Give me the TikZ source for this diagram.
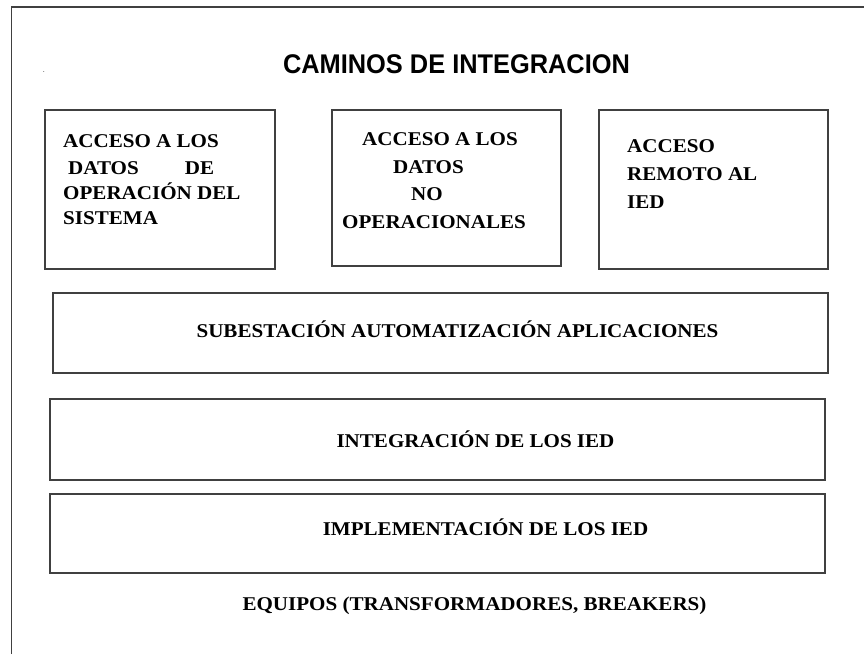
\documentclass[tikz,border=0pt]{standalone}
\usepackage{fontspec}
\usepackage{tikz}
\usetikzlibrary{positioning}
\newfontfamily\cajafont{Liberation Serif}[FakeStretch=1.08]
\newfontfamily\titulofont{Liberation Sans}[FakeStretch=0.94]
\tikzstyle{caja}=[rectangle,draw=black!75,line width=1.3pt,inner sep=0pt]
\tikzstyle{texto}=[font=\cajafont\bfseries\fontsize{19.5}{23}\selectfont,inner sep=0pt,anchor=base west]
\tikzstyle{centro}=[texto,anchor=base]
\tikzstyle{titulo}=[font=\titulofont\bfseries\fontsize{27}{32}\selectfont,inner sep=0pt,anchor=base]

\begin{document}
\begin{tikzpicture}[x=1pt,y=-1pt]

   \fill[white] (0,0) rectangle (864,654);
   \useasboundingbox (0,0) rectangle (864,654);

   % marco
   \draw[draw=black!75,line width=1.3pt] (11.5,654) -- (11.5,7) -- (864,7);

   \node[titulo] (titulo) at (456.5,73) {CAMINOS DE INTEGRACION};
   \node[inner sep=0pt,anchor=base,font=\fontsize{9}{9}\selectfont] (punto) at (44,72.5) {.};

    \foreach \name/\pos/\w/\h in {{acc1/(160,189.5)/230pt/159pt}, {acc2/(446.5,188)/229pt/156pt}, {acc3/(713.5,189.5)/229pt/159pt}, {sub/(440.5,333)/775pt/80pt}, {integ/(437.5,439.5)/775pt/81pt}, {impl/(437.5,533.5)/775pt/79pt}}
        \node[caja,minimum width=\w,minimum height=\h] (\name) at \pos {};

    % textos de las cajas de arriba
    \foreach \x/\y/\t in {63/147/{ACCESO A LOS}, 63/199/{OPERACIÓN DEL}, 63/224/{SISTEMA}, 362/145/{ACCESO A LOS}, 393/173/{DATOS}, 411/200/{NO}, 342/228/{OPERACIONALES}, 627/152/{ACCESO}, 627/180/{REMOTO AL}, 627/208/{IED}}
        \node[texto] at (\x,\y) {\t};
    \node[texto] at (63,174) {\makebox[151pt][l]{\hspace{5pt}DATOS\hfill DE}};

\node[centro] (subtxt) at (457.5,337) {SUBESTACIÓN AUTOMATIZACIÓN APLICACIONES};
\node[centro] (integtxt) at (475.5,447) {INTEGRACIÓN DE LOS IED};
\node[centro] (impltxt) at (485.5,535) {IMPLEMENTACIÓN DE LOS IED};
\node[centro] (equipos) at (474.5,610) {EQUIPOS (TRANSFORMADORES, BREAKERS)};

\end{tikzpicture}
\end{document}
